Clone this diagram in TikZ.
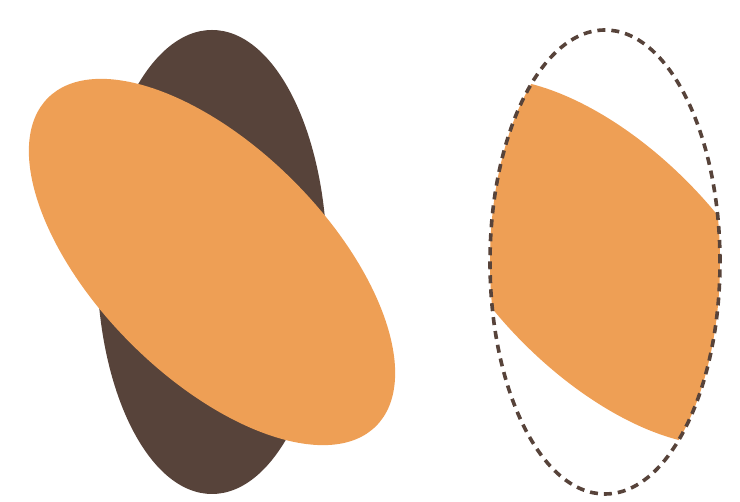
\documentclass[tikz,border=0pt]{standalone}
\usepackage{tikz}

\definecolor{barkbrown}{RGB}{87,67,58}
\definecolor{peachorange}{RGB}{238,159,85}

\begin{document}
\begin{tikzpicture}[x=1pt, y=1pt,
    solidshape/.style={fill=barkbrown},
    tiltshape/.style={fill=peachorange},
    clipoutline/.style={draw=barkbrown, line width=3.6pt, dash pattern=on 8pt off 6pt}
  ]
    \useasboundingbox (0,0) rectangle (740,502);

    % left: both shapes
    \coordinate (leftc) at (212,240);
    \fill[solidshape] (leftc) ellipse [x radius=115, y radius=232];
    \fill[tiltshape, rotate around={45:(leftc)}] (leftc) ellipse [x radius=115, y radius=232];

    % right: orange clipped by the ellipse
    \coordinate (rightc) at (605,240);
    \begin{scope}
      \clip (rightc) ellipse [x radius=115, y radius=232];
      \fill[tiltshape, rotate around={45:(rightc)}] (rightc) ellipse [x radius=115, y radius=232];
    \end{scope}
    \draw[clipoutline] (rightc) ellipse [x radius=115, y radius=232];
  \end{tikzpicture}
\end{document}
